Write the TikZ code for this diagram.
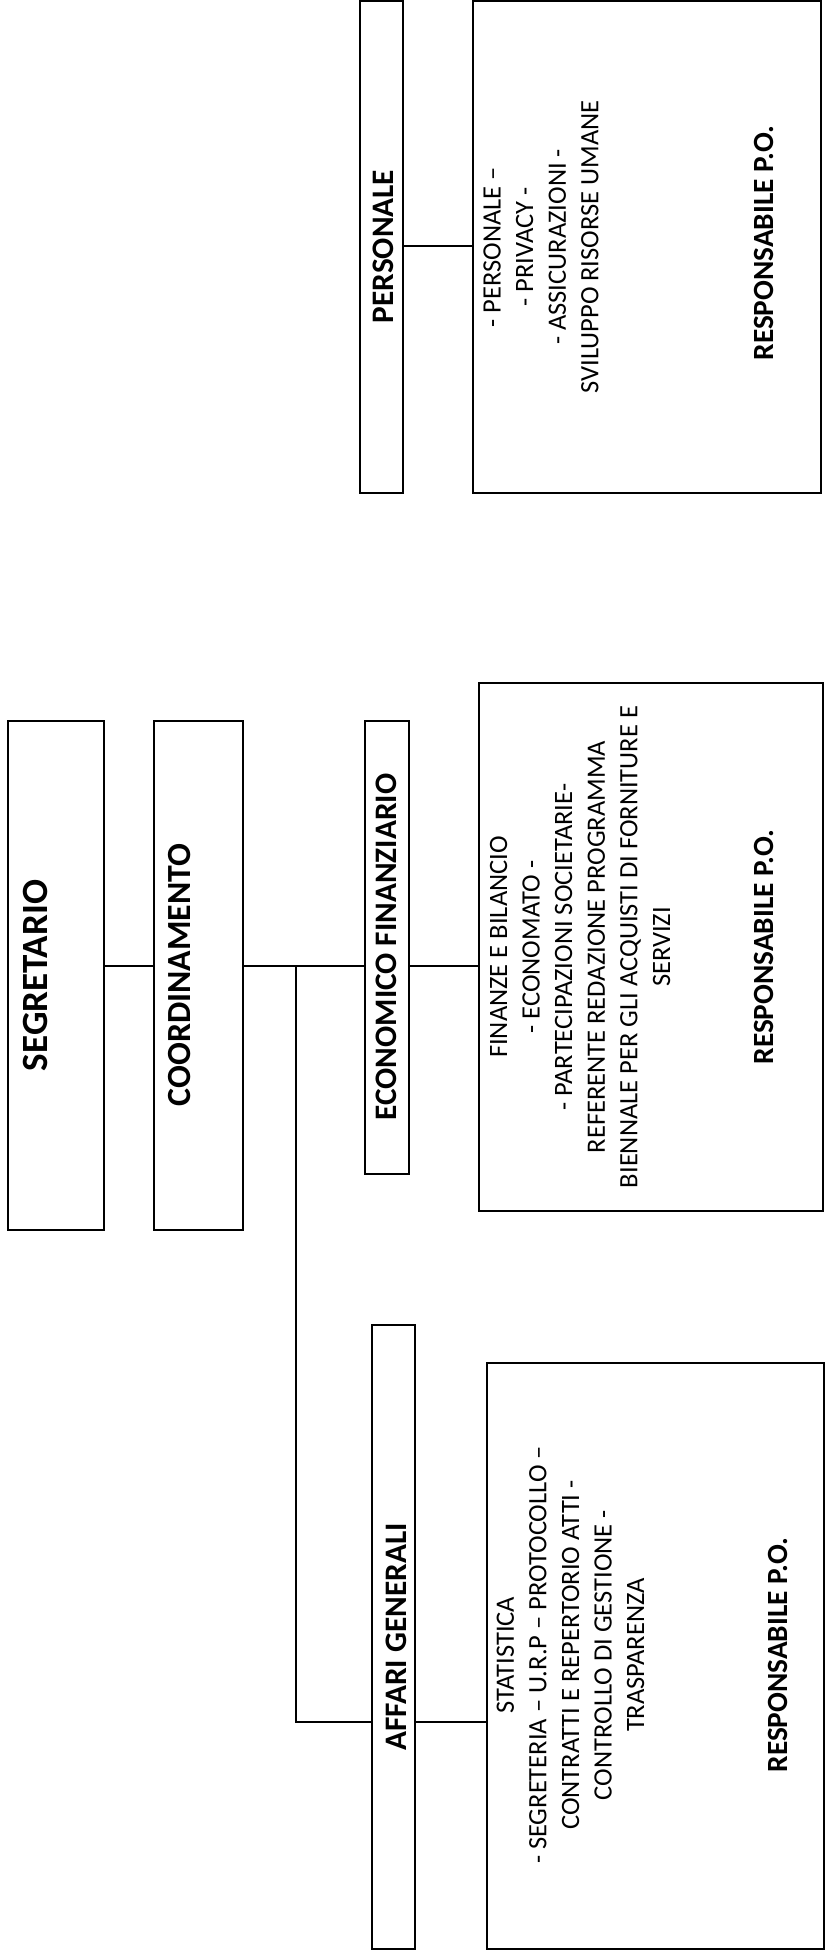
\documentclass[tikz,border=0pt]{standalone}
\usepackage{fontspec}
\setmainfont{Carlito}
\begin{document}
\begin{tikzpicture}[x=1pt,y=-1pt,
  box/.style={draw, line width=1.4pt, inner sep=0pt, rectangle},
  conn/.style={draw, line width=1.3pt},
  rtext/.style={rotate=90, inner sep=0pt},
  toplbl/.style={rtext, font=\bfseries\fontsize{37}{44}\selectfont},
  coordlbl/.style={rtext, font=\bfseries\fontsize{33.8}{40}\selectfont},
  deptlbl/.style={rtext, font=\bfseries\fontsize{31.3}{38}\selectfont},
  detail/.style={rtext, align=center, font=\fontsize{26.5}{32.6}\selectfont},
  resp/.style={rtext, font=\bfseries\fontsize{29.3}{35}\selectfont}]
\useasboundingbox (0,0) rectangle (826,1953);

% boxes
\node[box, minimum width=96pt, minimum height=509pt] (segr) at (56,975.5) {};
\node[box, minimum width=89pt, minimum height=509pt] (coord) at (198.5,975.5) {};
\node[box, minimum width=44pt, minimum height=453pt] (econ) at (387,947.5) {};
\node[box, minimum width=344pt, minimum height=528pt] (ecodet) at (651,947) {};
\node[box, minimum width=43pt, minimum height=492pt] (per) at (381.5,247) {};
\node[box, minimum width=348pt, minimum height=492pt] (perdet) at (647,247) {};
\node[box, minimum width=43pt, minimum height=624pt] (aff) at (393.5,1637) {};
\node[box, minimum width=337pt, minimum height=586pt] (affdet) at (655.5,1656) {};

% labels
\node[toplbl] (segrt) at (35,975.5) {SEGRETARIO};
\node[coordlbl] (coordt) at (180,975) {COORDINAMENTO};
\node[deptlbl] (econt) at (386,947) {ECONOMICO FINANZIARIO};
\node[deptlbl] (pert) at (383,246.5) {PERSONALE};
\node[deptlbl] (afft) at (396,1637) {AFFARI GENERALI};

% detail texts
\node[detail] (pertxt) at (541,247) {- PERSONALE --\\- PRIVACY -\\- ASSICURAZIONI -\\SVILUPPO RISORSE UMANE};
\node[resp] (perresp) at (764,243) {RESPONSABILE P.O.};
\node[detail] (ecotxt) at (580,947) {FINANZE E BILANCIO\\- ECONOMATO -\\- PARTECIPAZIONI SOCIETARIE-\\REFERENTE REDAZIONE PROGRAMMA\\BIENNALE PER GLI ACQUISTI DI FORNITURE E\\SERVIZI};
\node[resp] (ecoresp) at (764,947) {RESPONSABILE P.O.};
\node[detail] (afftxt) at (570.5,1655) {STATISTICA\\- SEGRETERIA -- U.R.P -- PROTOCOLLO --\\CONTRATTI E REPERTORIO ATTI -\\CONTROLLO DI GESTIONE -\\TRASPARENZA};
\node[resp] (affresp) at (778,1655) {RESPONSABILE P.O.};

% connector levels
\coordinate (ymain) at (0,966);
\coordinate (yper) at (0,246);
\coordinate (yaff) at (0,1722);
\coordinate (jv) at (296,966);

\draw[conn] (segr.east |- ymain) -- (coord.west |- ymain);
\draw[conn] (coord.east |- ymain) -- (econ.west |- ymain);
\draw[conn] (econ.east |- ymain) -- (ecodet.west |- ymain);
\draw[conn] (jv) -- (jv |- yaff) -- (aff.west |- yaff);
\draw[conn] (aff.east |- yaff) -- (affdet.west |- yaff);
\draw[conn] (per.east |- yper) -- (perdet.west |- yper);
\end{tikzpicture}
\end{document}
